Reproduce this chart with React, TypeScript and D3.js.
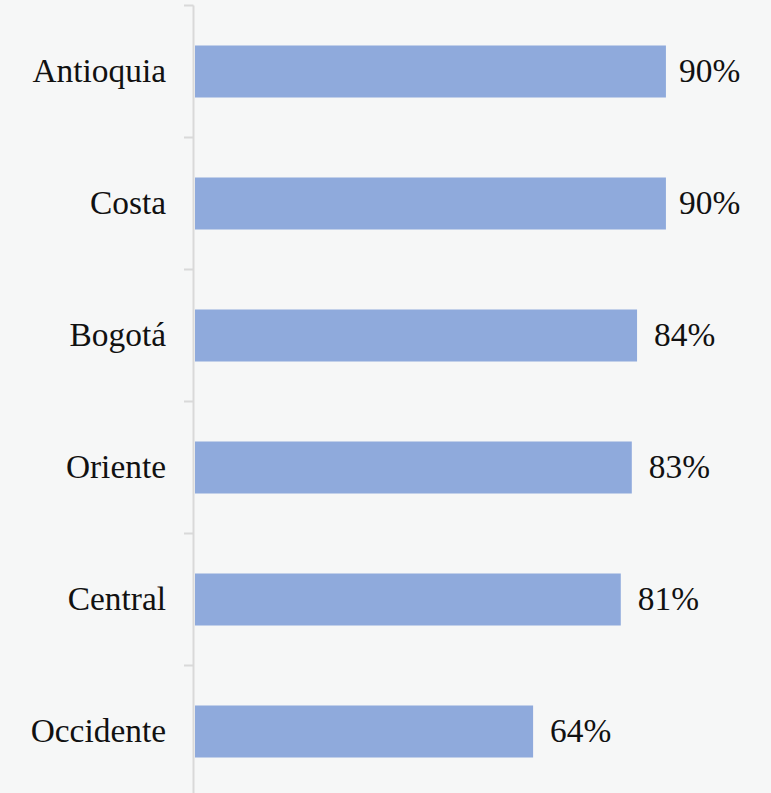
import React from "react";
import * as d3 from "d3";

const categories = ["Antioquia", "Costa", "Bogotá", "Oriente", "Central", "Occidente"];
const values = [89.7, 89.7, 84.2, 83.2, 81.1, 64.4];
const labels = ["90%", "90%", "84%", "83%", "81%", "64%"];

const W = 771;
const H = 793;

export default function App() {
  const x = d3.scaleLinear().domain([0, 100]).range([195, 720]);
  const y = d3.scaleBand<string>().domain(categories).range([5.5, 797.5]).paddingInner(0.606).paddingOuter(0.303);
  const step = y.step();
  const axisX = 193.5;
  const font = "'Liberation Serif', serif";
  const fs = 33.4;
  const plotRight = 741;
  const labelW = 62;
  const boundaries = d3.range(categories.length + 1).map((i) => 5.5 + i * step);
  return (
    <svg width={W} height={H} style={{ position: "absolute", left: 0, top: 0, background: "#f6f7f7" }}>
      <rect x={0} y={0} width={W} height={H} fill="#f6f7f7" />
      {categories.map((c, i) => {
        const lx = Math.min(x(values[i]) + 17, plotRight - labelW);
        const cy = y(c)! + y.bandwidth() / 2 + 10.5;
        return (
          <g key={c}>
            <rect x={x(0)} y={y(c)!} width={x(values[i]) - x(0)} height={y.bandwidth()} fill="#8faadc" />
            <text x={lx} y={cy} fontFamily={font} fontSize={fs} fill="#111">
              {labels[i]}
            </text>
            <text x={166} y={cy} textAnchor="end" fontFamily={font} fontSize={fs} fill="#111">
              {c}
            </text>
          </g>
        );
      })}
      <line x1={axisX} x2={axisX} y1={5.5} y2={H} stroke="#d9d9d9" strokeWidth={2} />
      {boundaries.map((b, i) => (
        <line key={i} x1={184} x2={axisX} y1={b} y2={b} stroke="#d9d9d9" strokeWidth={2} />
      ))}
    </svg>
  );
}
